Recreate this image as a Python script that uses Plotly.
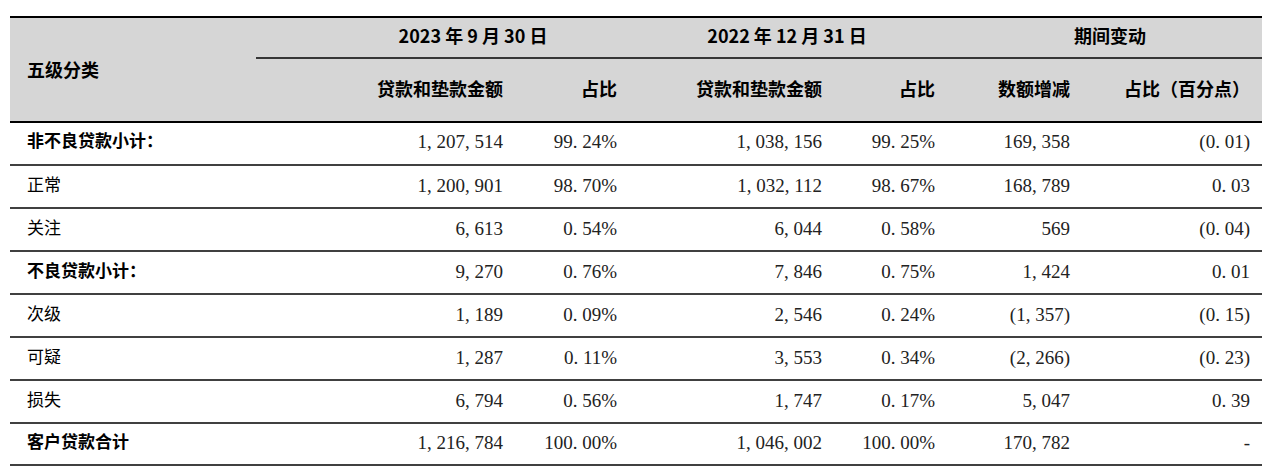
import plotly.graph_objects as go

categories = ["非不良贷款小计：", "正常", "关注", "不良贷款小计：", "次级", "可疑", "损失", "客户贷款合计"]
bold_rows = [True, False, False, True, False, False, False, True]
amt_2023 = ["1, 207, 514", "1, 200, 901", "6, 613", "9, 270", "1, 189", "1, 287", "6, 794", "1, 216, 784"]
pct_2023 = ["99. 24%", "98. 70%", "0. 54%", "0. 76%", "0. 09%", "0. 11%", "0. 56%", "100. 00%"]
amt_2022 = ["1, 038, 156", "1, 032, 112", "6, 044", "7, 846", "2, 546", "3, 553", "1, 747", "1, 046, 002"]
pct_2022 = ["99. 25%", "98. 67%", "0. 58%", "0. 75%", "0. 24%", "0. 34%", "0. 17%", "100. 00%"]
chg_amt = ["169, 358", "168, 789", "569", "1, 424", "(1, 357)", "(2, 266)", "5, 047", "170, 782"]
chg_pct = ["(0. 01)", "0. 03", "(0. 04)", "0. 01", "(0. 15)", "(0. 23)", "0. 39", "-"]
group_headers = ["2023 年 9 月 30 日", "2022 年 12 月 31 日", "期间变动"]
sub_headers = ["贷款和垫款金额", "占比", "贷款和垫款金额", "占比", "数额增减", "占比（百分点）"]

W, H = 1272, 470
OFF = 8  # page body margin
row_y = [143, 187, 230, 273, 316, 359, 402, 444]
col_right = [503, 617, 822, 935, 1070, 1250]
CJK = "Noto Sans CJK SC"
NUM = "Liberation Serif, DejaVu Serif, serif"

fig = go.Figure()
shapes = [dict(type="rect", x0=10, x1=1262, y0=17, y1=122, fillcolor="#d6d6d6", line_width=0, layer="below")]
shapes.append(dict(type="line", x0=10, x1=1262, y0=17, y1=17, line=dict(color="black", width=2)))
shapes.append(dict(type="line", x0=256, x1=1262, y0=58, y1=58, line=dict(color="black", width=1.5)))
shapes.append(dict(type="line", x0=10, x1=1262, y0=122, y1=122, line=dict(color="black", width=2)))
for y in [165, 208, 251, 294, 337, 380, 423, 465]:
    shapes.append(dict(type="line", x0=10, x1=1262, y0=y, y1=y, line=dict(color="black", width=1.5)))

fig.add_trace(go.Scatter(x=[27], y=[72], mode="text", text=["<b>五级分类</b>"], textposition="middle right",
                         textfont=dict(family=CJK, size=18, color="black"), hoverinfo="skip"))
fig.add_trace(go.Scatter(x=[473, 787, 1110], y=[38, 38, 38], mode="text",
                         text=[f"<b>{t}</b>" for t in group_headers], textposition="middle center",
                         textfont=dict(family=CJK, size=18, color="black"), hoverinfo="skip"))
fig.add_trace(go.Scatter(x=col_right, y=[91] * 6, mode="text",
                         text=[f"<b>{t}</b>" for t in sub_headers], textposition="middle left",
                         textfont=dict(family=CJK, size=18, color="black"), hoverinfo="skip"))

fig.add_trace(go.Scatter(x=[27] * len(categories), y=row_y, mode="text",
                         text=[f"<b>{c}</b>" if b else c for c, b in zip(categories, bold_rows)],
                         textposition="middle right",
                         textfont=dict(family=CJK, size=17, color="black"), hoverinfo="skip"))
for xr, col in zip(col_right, [amt_2023, pct_2023, amt_2022, pct_2022, chg_amt, chg_pct]):
    fig.add_trace(go.Scatter(x=[xr] * len(col), y=row_y, mode="text", text=col,
                             textposition="middle left",
                             textfont=dict(family=NUM, size=19, color="#222"), hoverinfo="skip"))

fig.update_layout(width=W, height=H, margin=dict(l=0, r=0, t=0, b=0), showlegend=False,
                  plot_bgcolor="white", paper_bgcolor="white", shapes=shapes,
                  xaxis=dict(range=[OFF, W + OFF], visible=False, fixedrange=True),
                  yaxis=dict(range=[H + OFF, OFF], visible=False, fixedrange=True))
fig.write_html("out.html")
